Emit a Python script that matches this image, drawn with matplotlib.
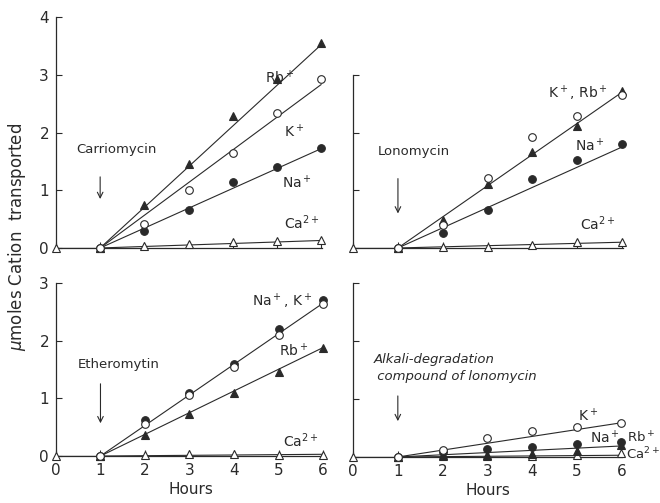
import numpy as np
import matplotlib
matplotlib.use("Agg")
import matplotlib.pyplot as plt

nan = np.nan
hours = [0, 1, 2, 3, 4, 5, 6]

# Carriomycin (top left)
carr_rb = [nan, 0, 0.74, 1.46, 2.28, 2.92, 3.55]
carr_k = [nan, 0, 0.42, 1.00, 1.64, 2.33, 2.93]
carr_na = [nan, 0, 0.30, 0.65, 1.15, 1.41, 1.73]
carr_ca = [0, 0, 0.04, 0.07, 0.10, 0.12, 0.13]
carr_fit_end = [3.52, 2.83, 1.72, 0.13]  # Rb, K, Na, Ca at 6 h

# Lonomycin (top right)
lono_k = [nan, 0, 0.40, 1.21, 1.92, 2.28, 2.65]
lono_rb = [nan, 0, 0.49, 1.11, 1.66, 2.12, 2.72]
lono_na = [nan, 0, 0.26, 0.65, 1.19, 1.52, 1.81]
lono_ca = [0, 0, 0.01, 0.02, 0.05, 0.10, 0.10]
lono_fit_end = [2.70, 1.75, 0.10]  # K/Rb, Na, Ca

# Etheromytin (bottom left)
eth_na = [nan, 0, 0.62, 1.10, 1.60, 2.20, 2.70]
eth_k = [nan, 0, 0.56, 1.05, 1.55, 2.10, 2.63]
eth_rb = [nan, 0, 0.37, 0.72, 1.10, 1.46, 1.88]
eth_ca = [0, 0, 0.02, 0.03, 0.03, 0.02, 0.02]
eth_fit_end = [2.65, 1.88, 0.03]  # Na/K, Rb, Ca

# Alkali-degradation compound of lonomycin (bottom right)
alk_k = [nan, 0, 0.12, 0.32, 0.45, 0.51, 0.59]
alk_na = [nan, 0, 0.08, 0.13, 0.17, 0.22, 0.26]
alk_rb = [nan, 0, 0.03, 0.03, 0.05, 0.11, 0.20]
alk_ca = [0, 0, 0.01, 0.01, 0.02, 0.03, 0.06]
alk_fit_end = [0.59, 0.19, 0.03]  # K, Na/Rb, Ca

INK = "#2a2a2a"
plt.rcParams["font.family"] = "DejaVu Sans"

fig = plt.figure(figsize=(6.6, 5.03), dpi=100)
ax_tl = fig.add_axes([0.0848, 0.507, 0.405, 0.459])
ax_tr = fig.add_axes([0.535, 0.507, 0.411, 0.459])
ax_bl = fig.add_axes([0.0848, 0.0934, 0.408, 0.344])
ax_br = fig.add_axes([0.535, 0.0915, 0.41, 0.346])

styles = {
    "tri_f": dict(marker="^", mfc=INK, mec=INK),
    "tri_o": dict(marker="^", mfc="white", mec=INK),
    "circ_f": dict(marker="o", mfc=INK, mec=INK),
    "circ_o": dict(marker="o", mfc="white", mec=INK),
}


def draw_points(ax, y, kind):
    ax.plot(hours, y, ls="none", ms=5.5, mew=0.8, clip_on=False, zorder=5, **styles[kind])


def draw_fit(ax, end):
    ax.plot([1, 6], [0, end], color=INK, lw=0.8, zorder=3)


def setup(ax, ymax, ylabels, xlabels):
    for s in ["top", "right"]:
        ax.spines[s].set_visible(False)
    for s in ["left", "bottom"]:
        ax.spines[s].set_color(INK)
        ax.spines[s].set_linewidth(0.9)
    ax.set_xlim(0, 6.05)
    ax.spines["left"].set_bounds(0, ymax)
    ax.spines["bottom"].set_bounds(0, 6.02)
    ax.set_yticks(range(0, ymax + 1))
    ax.set_xticks(hours)
    ax.tick_params(direction="in", length=4, width=0.8, colors=INK, labelsize=11, pad=5)
    if not ylabels:
        ax.set_yticklabels([])
    if not xlabels:
        ax.set_xticklabels([])
    else:
        ax.set_xlabel("Hours", fontsize=11, color=INK, labelpad=3)
    ax.plot([0, 1], [0, 0], color=INK, lw=0.9, zorder=3)


def add_arrow(ax, text_lines, y_text, y0, y1, x_text=0.45, italic=False):
    for i, t in enumerate(text_lines):
        ax.text(x_text, y_text - i * 0.3, t, fontsize=9.5, color=INK, ha="left", va="center",
                style="italic" if italic else "normal")
    ax.annotate("", xy=(1, y1), xytext=(1, y0),
                arrowprops=dict(arrowstyle="->", color=INK, lw=0.8))


def ion(ax, x, y, label, size=10):
    ax.text(x, y, label, fontsize=size, color=INK, ha="left", va="center")


# Top left
ax = ax_tl
setup(ax, 4, True, False)
ax.set_ylim(0, 4)
for end in carr_fit_end:
    draw_fit(ax, end)
draw_points(ax, carr_ca, "tri_o")
draw_points(ax, carr_na, "circ_f")
draw_points(ax, carr_rb, "tri_f")
draw_points(ax, carr_k, "circ_o")
ion(ax, 4.72, 2.95, r"Rb$^+$")
ion(ax, 5.15, 2.02, r"K$^+$")
ion(ax, 5.12, 1.13, r"Na$^+$")
ion(ax, 5.15, 0.43, r"Ca$^{2+}$")
add_arrow(ax, ["Carriomycin"], 1.7, 1.28, 0.8)

# Top right
ax = ax_tr
setup(ax, 3, False, False)
ax.set_ylim(0, 4)
for end in lono_fit_end:
    draw_fit(ax, end)
draw_points(ax, lono_ca, "tri_o")
draw_points(ax, lono_na, "circ_f")
draw_points(ax, lono_rb, "tri_f")
draw_points(ax, lono_k, "circ_o")
ion(ax, 4.35, 2.68, r"K$^+$, Rb$^+$")
ion(ax, 4.95, 1.77, r"Na$^+$")
ion(ax, 5.05, 0.42, r"Ca$^{2+}$")
add_arrow(ax, ["Lonomycin"], 1.67, 1.25, 0.55, x_text=0.55)

# Bottom left
ax = ax_bl
setup(ax, 3, True, True)
ax.set_ylim(0, 3)
for end in eth_fit_end:
    draw_fit(ax, end)
draw_points(ax, eth_ca, "tri_o")
draw_points(ax, eth_rb, "tri_f")
draw_points(ax, eth_na, "circ_f")
draw_points(ax, eth_k, "circ_o")
ion(ax, 4.4, 2.68, r"Na$^+$, K$^+$")
ion(ax, 5.0, 1.83, r"Rb$^+$")
ion(ax, 5.1, 0.27, r"Ca$^{2+}$")
add_arrow(ax, ["Etheromytin"], 1.58, 1.3, 0.52, x_text=0.5)

# Bottom right
ax = ax_br
setup(ax, 3, False, True)
ax.set_ylim(0, 3)
for end in alk_fit_end:
    draw_fit(ax, end)
draw_points(ax, alk_ca, "tri_o")
draw_points(ax, alk_rb, "tri_f")
draw_points(ax, alk_na, "circ_f")
draw_points(ax, alk_k, "circ_o")
ion(ax, 5.02, 0.72, r"K$^+$")
ion(ax, 5.3, 0.33, r"Na$^+$")
ion(ax, 6.12, 0.33, r"Rb$^+$", size=9.5)
ion(ax, 6.1, 0.05, r"Ca$^{2+}$", size=9.5)
add_arrow(ax, ["Alkali-degradation", " compound of lonomycin"], 1.68, 1.1, 0.57,
          x_text=0.45, italic=True)

fig.text(0.026, 0.53, r"$\mu$moles Cation  transported", rotation=90, fontsize=12,
         color=INK, ha="center", va="center")

fig.savefig("out.png", dpi=100)
